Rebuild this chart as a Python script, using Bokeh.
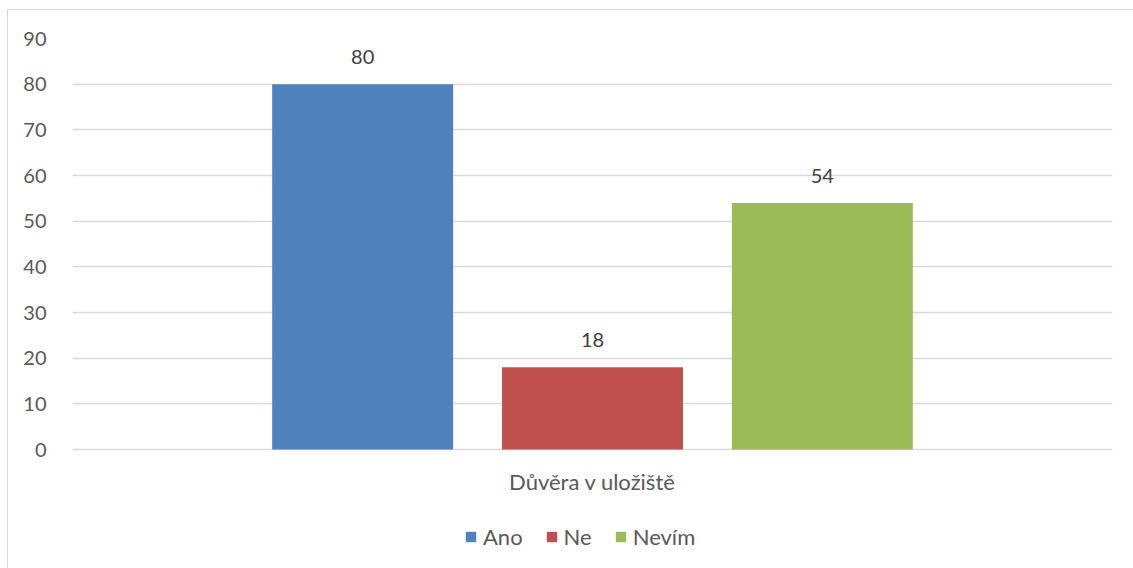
from bokeh.plotting import figure
from bokeh.models import ColumnDataSource, FactorRange, Legend, LegendItem, LabelSet
from bokeh.core.properties import value
from bokeh.transform import dodge
from bokeh.embed import file_html
from bokeh.resources import INLINE

# Survey answers for a single question
category = ["Důvěra v uložiště"]
answers = ["Ano", "Ne", "Nevím"]
counts = [80, 18, 54]
colors = ["#4F81BD", "#C0504D", "#9BBB59"]
y_ticks = [0, 10, 20, 30, 40, 50, 60, 70, 80, 90]

FONT = "Lato"
TEXT_COLOR = "#595959"

# Geometry: value axis spans 411 px for 0..90; the frame continues below zero
# to leave room for the category label and the legend.
CANVAS_H = 580
TOP = 28
AXIS_PX = 411
y_max = 90
y_min = y_max - (CANVAS_H - TOP) * y_max / AXIS_PX

p = figure(
    x_range=FactorRange(*category),
    y_range=(y_min, y_max),
    width=1140,
    height=CANVAS_H,
    output_backend="svg",
    toolbar_location=None,
    min_border_left=64,
    min_border_top=TOP,
    min_border_right=36,
    min_border_bottom=0,
    margin=(9, 0, 0, 7),
)
# Thin frame around the whole chart area
p.styles = {"border": "1px solid #D9D9D9"}
p.outline_line_color = None
p.background_fill_color = "white"
p.border_fill_color = "white"

offsets = [-0.221, 0.0, 0.221]
bar_width = 0.174
items = []
for name, val, col, off in zip(answers, counts, colors, offsets):
    src = ColumnDataSource(dict(cat=category, val=[val], txt=[str(val)]))
    r = p.vbar(x=dodge("cat", off, range=p.x_range), top="val", bottom=0,
               width=bar_width, source=src, fill_color=col, line_color=None)
    items.append(LegendItem(label=name, renderers=[r]))
    p.add_layout(LabelSet(x=dodge("cat", off, range=p.x_range), y="val", text="txt",
                          source=src, text_align="center", text_baseline="middle",
                          y_offset=27, text_font=value(FONT), text_font_size="20px",
                          text_color="#404040"))

# Category name under the zero line
cat_src = ColumnDataSource(dict(cat=category, y=[0], txt=category))
p.add_layout(LabelSet(x="cat", y="y", text="txt", source=cat_src,
                      text_align="center", text_baseline="middle", y_offset=-32,
                      text_font=value(FONT), text_font_size="22px",
                      text_color=TEXT_COLOR))

# Axes
p.xaxis.visible = False
p.yaxis.ticker = y_ticks
p.yaxis.axis_line_color = None
p.yaxis.major_tick_line_color = None
p.yaxis.minor_tick_line_color = None
p.yaxis.major_label_standoff = 20
p.yaxis.major_label_text_font = FONT
p.yaxis.major_label_text_font_size = "20px"
p.yaxis.major_label_text_color = TEXT_COLOR

p.xgrid.grid_line_color = None
p.ygrid.grid_line_color = "#D9D9D9"
p.ygrid.grid_line_width = 1.5

# Legend sits under the category label
legend = Legend(items=items, orientation="horizontal", location=(392, 40),
                border_line_color=None, background_fill_alpha=0,
                glyph_width=13, glyph_height=13, label_standoff=6, spacing=22,
                label_text_font=FONT, label_text_font_size="22px",
                label_text_color=TEXT_COLOR, margin=0, padding=4)
p.add_layout(legend, "center")

open("out.html", "w").write(file_html(p, INLINE))
